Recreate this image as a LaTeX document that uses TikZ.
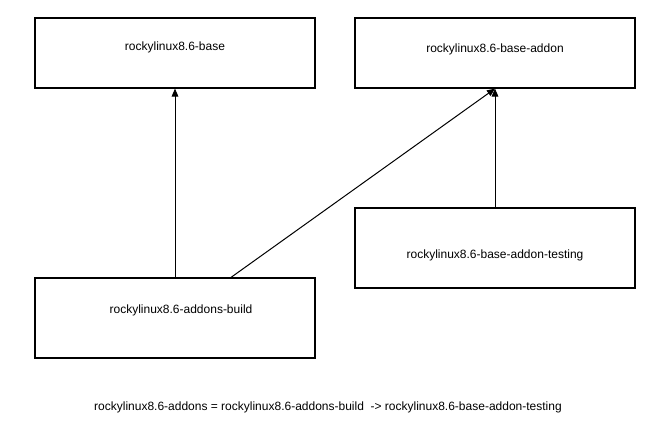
\documentclass[tikz,border=0pt]{standalone}
\usepackage{fontspec}
\setmainfont{Liberation Sans}
\usetikzlibrary{arrows.meta}
\begin{document}
\begin{tikzpicture}[x=0.75pt,y=-0.75pt,
  box/.style={draw=black,line width=0.9pt,rectangle,inner sep=0pt,minimum width=210pt},
  topbox/.style={box,minimum height=52.5pt},
  lowbox/.style={box,minimum height=60pt},
  txt/.style={font=\fontsize{9pt}{11pt}\selectfont,text=black},
  conn/.style={draw=black,line width=0.75pt,-{Triangle[length=6pt,width=5pt]}}]
\useasboundingbox (0,0) rectangle (662,440);
\node[topbox] (base) at (175,53) {};
\node[topbox] (addon) at (495,53) {};
\node[lowbox] (testing) at (495,248) {};
\node[lowbox] (build) at (175,318) {};
\node[txt] (tbase) at (175,47) {rockylinux8.6-base};
\node[txt] (taddon) at (495,49) {rockylinux8.6-base-addon};
\node[txt] (ttesting) at (495,255) {rockylinux8.6-base-addon-testing};
\node[txt] (tbuild) at (181,310) {rockylinux8.6-addons-build};
\node[txt] (note) at (328,407) {rockylinux8.6-addons = rockylinux8.6-addons-build \ -> rockylinux8.6-base-addon-testing};
\draw[conn] (build.north) -- (base.south);
\draw[conn] ([xshift=42pt]build.north) -- (addon.south);
\draw[conn] (testing.north) -- (addon.south);
\end{tikzpicture}
\end{document}
